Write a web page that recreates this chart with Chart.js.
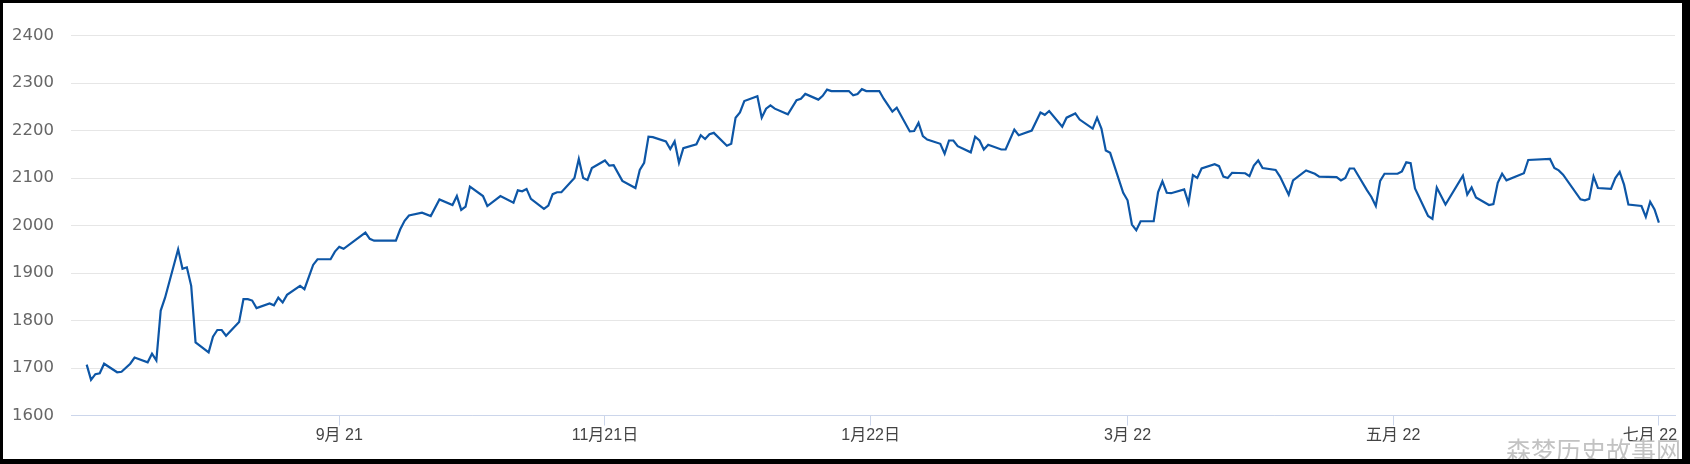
<!DOCTYPE html>
<html>

<head>
    <meta charset="utf-8">
    <title>price chart</title>
    <script src="https://cdn.jsdelivr.net/npm/chart.js"></script>
    <style>
        body { margin: 0; background: #fff; }
        #frame {
            position: relative;
            width: 1690px;
            height: 464px;
            box-sizing: border-box;
            border-style: solid;
            border-color: #000;
            border-width: 3px 8px 5px 3px;
            overflow: hidden;
            background: #fff;
        }
        #mark {
            position: absolute;
            left: 1503px;
            top: 434px;
            font: 25px/25px "Noto Sans CJK SC", sans-serif;
            color: #c2c2c2;
            white-space: nowrap;
        }
    </style>
</head>

<body>
    <div id="frame">
        <canvas id="myChart" width="1679" height="456"></canvas>
        <div id="mark">森梦历史故事网</div>
    </div>
    <script>
        // days counted from 2021-07-01
        const days = [
            4, 5, 6, 7, 8, 11, 12, 14, 15, 18, 19, 20, 21, 22, 25, 26, 27, 28, 29,
            32, 33, 34, 35, 36, 39, 40, 41, 42, 43, 46, 47, 48, 49, 50, 53, 54, 56, 57,
            60, 61, 62, 63, 68, 69, 70, 75, 76, 77, 78, 81, 83, 85, 88, 89, 90, 91, 92,
            95, 96, 99, 102, 103, 104, 105, 106, 109, 110, 111, 112, 113, 116, 117, 118,
            119, 120, 123, 124, 125, 127, 130, 131, 132, 133, 134, 137, 138, 139, 140,
            141, 144, 145, 146, 147, 148, 151, 152, 153, 154, 155, 158, 159, 160, 161,
            162, 165, 167, 168, 169, 172, 173, 174, 175, 179, 180, 181, 182, 183, 186,
            187, 189, 190, 193, 194, 195, 196, 197, 200, 201, 202, 203, 204, 207, 208,
            209, 210, 211, 214, 215, 217, 218, 221, 223, 224, 225, 228, 229, 231, 232,
            235, 236, 237, 238, 239, 242, 243, 244, 245, 246, 249, 250, 251, 252, 253,
            256, 257, 258, 259, 260, 263, 264, 265, 266, 267, 270, 271, 272, 273, 274,
            277, 278, 280, 281, 284, 286, 287, 291, 292, 293, 294, 295, 298, 299, 300,
            301, 302, 305, 306, 307, 308, 309, 312, 313, 314, 316, 320, 321, 322, 323,
            326, 327, 328, 329, 330, 334, 335, 340, 341, 342, 343, 347, 348, 349, 350,
            351, 354, 355, 356, 357, 358, 361, 362, 363, 364, 365
        ];
        const prices = [
            1707, 1675, 1687, 1689, 1709, 1691, 1692, 1709, 1722, 1712, 1730, 1716, 1821, 1848, 1950, 1909, 1912, 1873, 1754,
            1733, 1766, 1780, 1780, 1768, 1797, 1845, 1845, 1842, 1826, 1836, 1832, 1848, 1838, 1854, 1873, 1866, 1917, 1929,
            1929, 1945, 1955, 1951, 1985, 1972, 1968, 1968, 1992, 2010, 2021, 2027, 2020, 2055, 2043, 2062, 2033, 2040, 2082,
            2062, 2041, 2062, 2048, 2074, 2072, 2077, 2056, 2035, 2042, 2066, 2070, 2070, 2100, 2140, 2100,
            2096, 2121, 2137, 2126, 2127, 2094, 2079, 2117, 2132, 2187, 2186, 2177, 2161, 2177, 2132,
            2163, 2171, 2190, 2182, 2192, 2195, 2168, 2172, 2227, 2238, 2262, 2272, 2227, 2246, 2253,
            2246, 2234, 2264, 2267, 2277, 2265, 2273, 2286, 2283, 2283, 2274, 2277, 2287, 2283, 2283,
            2267, 2240, 2248, 2198, 2199, 2216, 2188, 2181, 2172, 2151, 2179, 2179, 2167, 2154, 2187,
            2179, 2160, 2170, 2160, 2160, 2202, 2190, 2200, 2238, 2233, 2241, 2208, 2227, 2236, 2223,
            2204, 2227, 2204, 2158, 2153, 2069, 2053, 2002, 1990, 2009, 2009, 2070, 2093, 2069, 2068,
            2076, 2047, 2106, 2100, 2120, 2129, 2125, 2103, 2100, 2111, 2110, 2104, 2126, 2137, 2121,
            2117, 2103, 2065, 2095, 2116, 2109, 2103, 2102, 2095, 2100, 2120, 2120, 2074, 2060, 2041,
            2094, 2109, 2109, 2114, 2133, 2131, 2078, 2020, 2014, 2080, 2044, 2105, 2065, 2080, 2059,
            2043, 2045, 2090, 2109, 2095, 2110, 2138, 2140, 2121, 2116, 2107, 2055, 2053, 2056, 2103,
            2079, 2077, 2100, 2113, 2086, 2044, 2041, 2018, 2050, 2034, 2006
        ];
        const tickDays = [62, 123, 184, 243, 304, 365];
        const tickLabels = ['9月 21', '11月21日', '1月22日', '3月 22', '五月 22', '七月 22'];

        const ctx = document.getElementById('myChart').getContext('2d');
        new Chart(ctx, {
            type: 'line',
            data: {
                datasets: [{
                    data: days.map((d, i) => ({ x: d, y: prices[i] })),
                    borderColor: '#0d56a6',
                    borderWidth: 2.2,
                    pointRadius: 0,
                    tension: 0,
                    fill: false
                }]
            },
            options: {
                responsive: false,
                animation: false,
                layout: { padding: { top: 32.5, right: 7, bottom: 0, left: 0 } },
                plugins: { legend: { display: false }, tooltip: { enabled: false } },
                scales: {
                    x: {
                        type: 'linear',
                        min: 0.4,
                        max: 368.7,
                        afterBuildTicks: scale => { scale.ticks = tickDays.map(v => ({ value: v })); },
                        afterFit: scale => {
                            scale.height = 43.5;
                            scale.paddingLeft = 0;
                            scale.paddingRight = 0;
                        },
                        grid: { drawOnChartArea: false, color: '#ccd6eb', tickLength: 10 },
                        border: { color: '#ccd6eb' },
                        ticks: {
                            autoSkip: false,
                            maxRotation: 0,
                            padding: 0,
                            color: '#444444',
                            font: { family: '"Liberation Sans", "Noto Sans CJK SC"', size: 16 },
                            callback: function (value, index) {
                                const label = tickLabels[tickDays.indexOf(value)];
                                // last label is pushed left so it stays inside the plot
                                return index === tickDays.length - 1 ? label + '\u00a0\u00a0\u00a0\u00a0' : label;
                            }
                        }
                    },
                    y: {
                        min: 1600,
                        max: 2400,
                        afterFit: scale => { scale.width = 68; },
                        grid: { color: '#e6e6e6', drawTicks: false },
                        border: { display: false },
                        ticks: {
                            stepSize: 100,
                            padding: 17,
                            color: '#666666',
                            font: { family: '"DejaVu Sans"', size: 16.5 },
                            callback: value => String(value)
                        }
                    }
                }
            }
        });
    </script>
</body>

</html>
